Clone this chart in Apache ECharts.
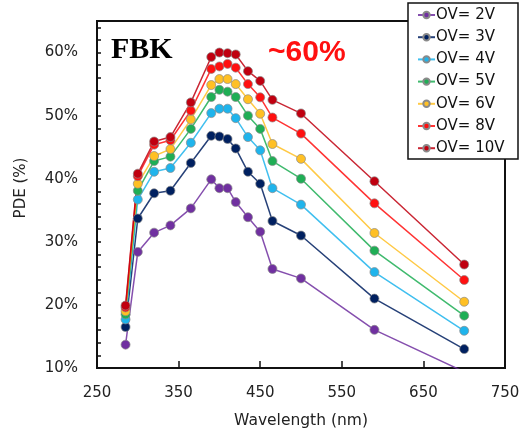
<!DOCTYPE html>
<html>
<head>
<meta charset="utf-8">
<script src="https://cdn.jsdelivr.net/npm/echarts@6/dist/echarts.min.js"></script>
<style>
  html, body { margin: 0; padding: 0; background: #fff; }
  #chart { width: 529px; height: 434px; }
</style>
</head>
<body>
<div id="chart"></div>
<script>
// wavelength (nm)
const wavelength = [285, 300, 320, 340, 365, 390, 400, 410, 420, 435, 450, 465, 500, 590, 700]

// PDE (%) for each over-voltage
const ov2 = [13.7, 28.4, 31.45, 32.6, 35.3, 39.9, 38.5, 38.5, 36.3, 33.9, 31.6, 25.7, 24.2, 16.05, 9.4]
const ov3 = [16.5, 33.7, 37.7, 38.1, 42.5, 46.8, 46.7, 46.3, 44.8, 41.1, 39.2, 33.3, 31.0, 21.0, 13.0]
const ov4 = [17.7, 36.7, 41.1, 41.7, 45.7, 50.4, 51.1, 51.1, 49.6, 46.6, 44.5, 38.5, 35.9, 25.2, 15.9]
const ov5 = [18.5, 38.1, 42.8, 43.5, 47.9, 52.95, 54.1, 53.8, 52.95, 50.0, 47.9, 42.8, 40.0, 28.6, 18.3]
const ov6 = [19.0, 39.2, 43.6, 44.7, 49.4, 54.85, 55.8, 55.8, 55.0, 52.6, 50.3, 45.5, 43.15, 31.4, 20.5]
const ov8 = [19.6, 40.4, 45.4, 46.1, 50.8, 57.4, 57.8, 58.2, 57.6, 55.0, 52.9, 49.7, 47.15, 36.1, 23.95]
const ov10 = [19.9, 40.8, 45.9, 46.6, 52.1, 59.3, 60.0, 59.9, 59.7, 57.05, 55.5, 52.5, 50.35, 39.6, 26.4]

const seriesNames = ['OV= 2V', 'OV= 3V', 'OV= 4V', 'OV= 5V', 'OV= 6V', 'OV= 8V', 'OV= 10V']
const seriesData = [ov2, ov3, ov4, ov5, ov6, ov8, ov10]
const colors = ['#7030A0', '#002060', '#1FB4EC', '#1FAE55', '#FFC024', '#FF1010', '#C00010']

const font = 'DejaVu Sans'

const chart = echarts.init(document.getElementById('chart'))

const series = seriesNames.map((name, i) => ({
  name: name,
  type: 'line',
  data: wavelength.map((w, j) => [w, seriesData[i][j]]),
  symbol: 'circle',
  symbolSize: 9,
  clip: true,
  color: colors[i],
  itemStyle: { color: colors[i], borderColor: '#8a8a8a', borderWidth: 0.7 },
  lineStyle: { color: colors[i], width: 1.5, opacity: 0.85 },
  emphasis: { disabled: true },
  animation: false
}))

chart.setOption({
  backgroundColor: '#ffffff',
  animation: false,
  grid: {
    left: 97,
    top: 21,
    right: 24,
    bottom: 65,
    show: true,
    borderColor: '#111',
    borderWidth: 2
  },
  xAxis: {
    type: 'value',
    min: 250,
    max: 750,
    interval: 100,
    name: 'Wavelength (nm)',
    nameLocation: 'middle',
    nameGap: 45,
    nameTextStyle: { fontFamily: font, fontSize: 15.5, color: '#222' },
    axisLine: { lineStyle: { color: '#111', width: 2 } },
    axisTick: { inside: true, length: 7, lineStyle: { color: '#111', width: 1.5 } },
    axisLabel: { fontFamily: font, fontSize: 15, color: '#222', margin: 18 },
    splitLine: { show: false }
  },
  yAxis: {
    type: 'value',
    min: 10,
    max: 65,
    interval: 2,
    axisLine: { show: true, lineStyle: { color: '#111', width: 2 } },
    axisTick: { inside: true, length: 4, lineStyle: { color: '#111', width: 1.5 } },
    axisLabel: {
      fontFamily: font,
      fontSize: 15,
      color: '#222',
      margin: 19,
      formatter: v => (v % 10 === 0 ? v + '%' : '')
    },
    splitLine: { show: false }
  },
  legend: {
    orient: 'vertical',
    left: 417,
    top: 7,
    padding: 0,
    itemWidth: 17,
    itemHeight: 8,
    itemGap: 6.2,
    z: 20,
    data: seriesNames,
    textStyle: { fontFamily: font, fontSize: 15, lineHeight: 16, color: '#111', padding: [0, 0, 0, -4] }
  },
  graphic: [
    {
      type: 'rect',
      z: 10,
      shape: { x: 408, y: 3, width: 110, height: 156 },
      style: { fill: '#fff', stroke: '#111', lineWidth: 1.5 }
    },
    {
      type: 'text',
      z: 10,
      x: 111,
      y: 50,
      style: {
        text: 'FBK',
        fontFamily: 'Liberation Serif',
        fontWeight: 'bold',
        fontSize: 30,
        fill: '#000',
        align: 'left',
        verticalAlign: 'middle'
      }
    },
    {
      type: 'text',
      z: 10,
      x: 266,
      y: 53,
      style: {
        text: '~60%',
        fontFamily: 'Liberation Sans',
        fontWeight: 'bold',
        fontSize: 30,
        fill: '#FF1010',
        backgroundColor: '#fff',
        padding: [0, 2, 0, 2],
        align: 'left',
        verticalAlign: 'middle'
      }
    },
    {
      type: 'text',
      x: 21,
      y: 188,
      rotation: Math.PI / 2,
      style: {
        text: 'PDE (%)',
        fontFamily: font,
        fontSize: 15,
        fill: '#222',
        align: 'center',
        verticalAlign: 'middle'
      }
    }
  ],
  series: series
})
</script>
</body>
</html>
